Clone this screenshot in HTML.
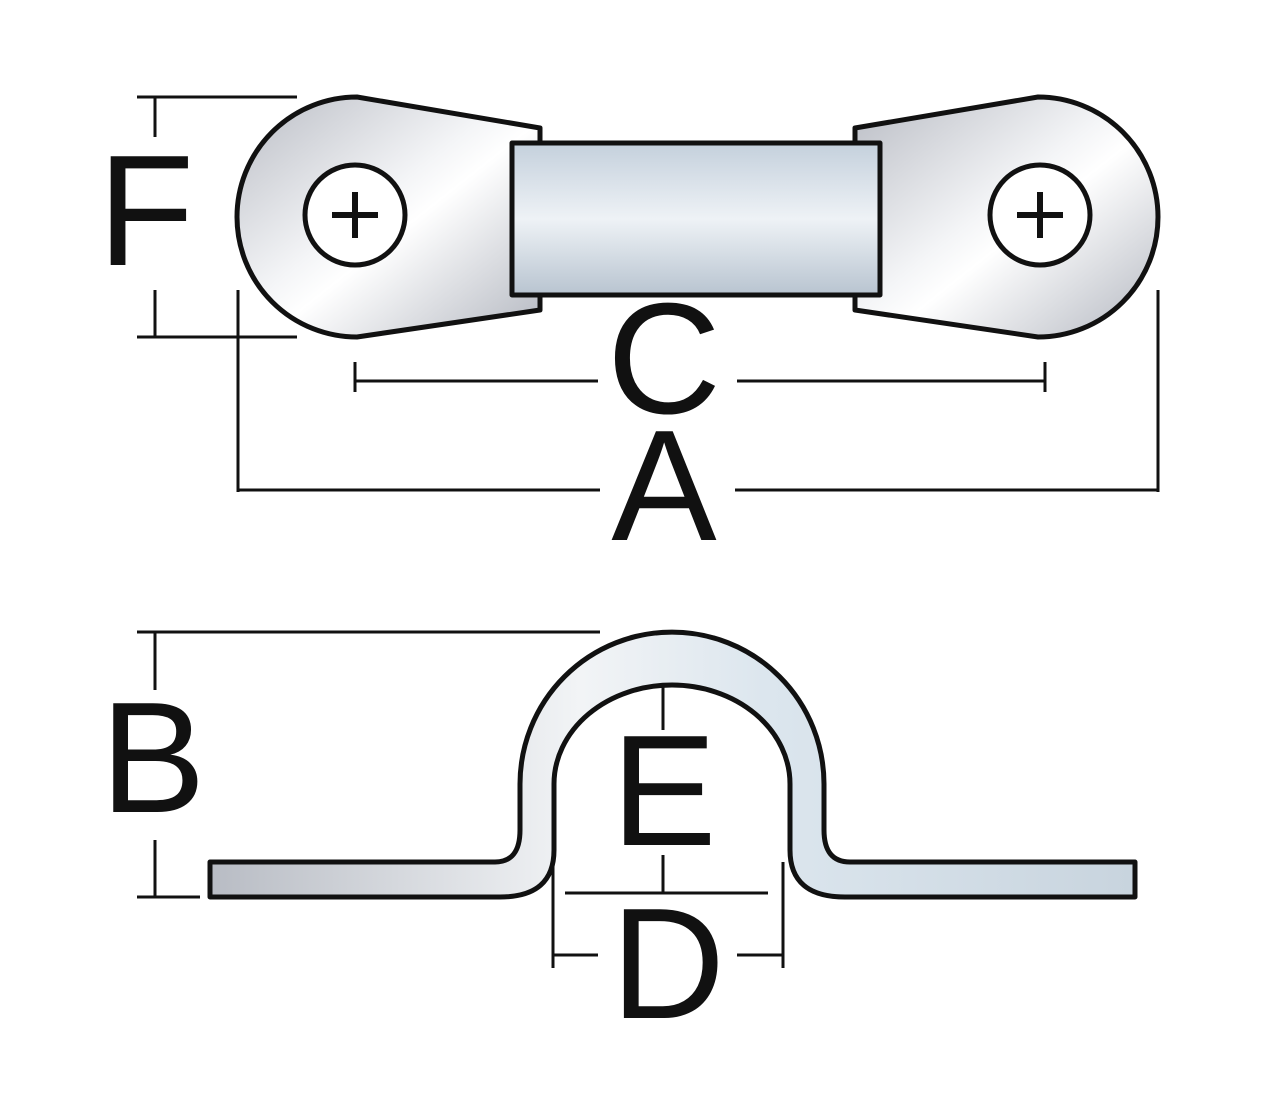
<!DOCTYPE html>
<html><head><meta charset="utf-8"><style>html,body{margin:0;padding:0;background:#fff}svg{display:block}</style></head>
<body>
<svg width="1284" height="1100" viewBox="0 0 1284 1100" xmlns="http://www.w3.org/2000/svg">
<defs>
<linearGradient id="g1" x1="0" y1="0" x2="1" y2="1">
<stop offset="0" stop-color="#b9bcc4"/><stop offset="0.45" stop-color="#f4f5f7"/><stop offset="0.55" stop-color="#ffffff"/><stop offset="1" stop-color="#b3b7c0"/>
</linearGradient>
<linearGradient id="g2" x1="0" y1="0" x2="0" y2="1">
<stop offset="0" stop-color="#c4d0dc"/><stop offset="0.5" stop-color="#eef2f6"/><stop offset="1" stop-color="#b8c4d0"/>
</linearGradient>
<linearGradient id="g3" x1="0" y1="0" x2="1" y2="0">
<stop offset="0" stop-color="#b8bcc4"/><stop offset="0.4" stop-color="#f2f4f6"/><stop offset="0.6" stop-color="#dce6ee"/><stop offset="1" stop-color="#c8d4de"/>
</linearGradient>
</defs>
<g stroke="#111" stroke-width="5" stroke-linejoin="round">
<path d="M357,97 L540,128 L540,310 L357,337 A120,120 0 0 1 357,97 Z" fill="url(#g1)"/>
<path d="M1038,97 L855,128 L855,310 L1038,337 A120,120 0 0 0 1038,97 Z" fill="url(#g1)"/>
<rect x="512" y="143" width="368" height="152" fill="url(#g2)"/>
<circle cx="355" cy="215" r="50" fill="#fff"/>
<circle cx="1040" cy="215" r="50" fill="#fff"/>
<path d="M210,862 L495,862 Q520,862 520,830 L520,784 A152,152 0 0 1 824,784 L824,830 Q824,862 850,862 L1135,862 L1135,897 L845,897 Q790,897 790,850 L790,784 A118,99 0 0 0 554,784 L554,850 Q554,897 500,897 L210,897 Z" fill="url(#g3)"/>
</g>
<g stroke="#111" stroke-width="6" fill="none">
<path d="M355,192 V238 M332,215 H378"/>
<path d="M1040,192 V238 M1017,215 H1063"/>
</g>
<g stroke="#111" stroke-width="3" fill="none">
<path d="M137,97 H297 M137,337 H297 M155,97 V137 M155,290 V337"/>
<path d="M355,381 H598 M737,381 H1045 M355,362 V392 M1045,362 V392"/>
<path d="M238,490 H600 M735,490 H1158 M238,290 V492 M1158,290 V492"/>
<path d="M137,632 H600 M137,897 H200 M155,632 V690 M155,840 V897"/>
<path d="M663,685 V730 M663,855 V893 M565,893 H768"/>
<path d="M553,862 V968 M783,862 V968 M553,955 H598 M737,955 H783"/>
</g>
<g font-family="Liberation Sans, sans-serif" font-size="158" fill="#111" text-anchor="middle">
<text x="146" y="265">F</text>
<text x="664" y="413">C</text>
<text x="664" y="540">A</text>
<text x="153" y="812">B</text>
<text x="664" y="845">E</text>
<text x="668" y="1018">D</text>
</g>
</svg>
</body></html>
